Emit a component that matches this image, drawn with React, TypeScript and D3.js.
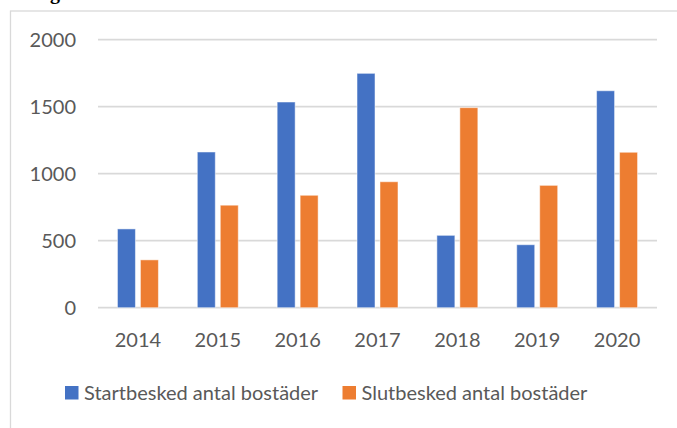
import React, { useEffect, useRef } from 'react';
import * as d3 from 'd3';

const years = ['2014', '2015', '2016', '2017', '2018', '2019', '2020'];
const startbesked = [588, 1162, 1535, 1749, 540, 470, 1619];
const slutbesked = [357, 765, 839, 940, 1493, 913, 1160];
const seriesNames = ['Startbesked antal bostäder', 'Slutbesked antal bostäder'];
const yTicks = [0, 500, 1000, 1500, 2000];

const App = () => {
  const chartRef = useRef<SVGSVGElement>(null);

  useEffect(() => {
    const svg = d3.select(chartRef.current);
    svg.selectAll('*').remove();

    const width = 677;
    const height = 428;
    const colors = ['#4472C4', '#ED7D31'];
    const textColor = '#595959';
    const font = 'Lato, "Open Sans", sans-serif';

    const x = d3.scaleBand().domain(years).range([98, 657]).paddingInner(0.487).paddingOuter(0.2435);
    const xInner = d3.scaleBand().domain(['0', '1']).range([0, x.bandwidth()]).paddingInner(0.217);
    const y = d3.scaleLinear().domain([0, 2000]).range([307.7, 39.7]);

    svg.attr('width', width).attr('height', height);

    // bit of the caption above, cut off by the crop
    svg.append('text')
      .attr('x', 50)
      .attr('y', -1)
      .attr('font-family', '"Liberation Serif", serif')
      .attr('font-weight', 'bold')
      .attr('font-size', 20)
      .attr('fill', '#000')
      .text('g');

    // chart frame
    svg.append('rect')
      .attr('x', 10.5)
      .attr('y', 11)
      .attr('width', 700)
      .attr('height', 500)
      .attr('fill', 'none')
      .attr('stroke', '#d9d9d9')
      .attr('stroke-width', 1.3);

    // gridlines
    svg.append('g')
      .selectAll('line')
      .data(yTicks)
      .join('line')
      .attr('x1', 98)
      .attr('x2', 657)
      .attr('y1', d => y(d))
      .attr('y2', d => y(d))
      .attr('stroke', '#d9d9d9')
      .attr('stroke-width', 1.8);

    // y labels
    svg.append('g')
      .attr('font-family', font)
      .attr('font-size', 20)
      .attr('fill', textColor)
      .attr('text-anchor', 'end')
      .selectAll('text')
      .data(yTicks)
      .join('text')
      .attr('x', 76)
      .attr('y', d => y(d))
      .attr('dy', '0.35em')
      .text(d => String(d));

    // bars
    const series = [startbesked, slutbesked];
    series.forEach((values, si) => {
      svg.append('g')
        .selectAll('rect')
        .data(values)
        .join('rect')
        .attr('x', (d, i) => (x(years[i]) ?? 0) + (xInner(String(si)) ?? 0))
        .attr('y', d => y(d))
        .attr('width', xInner.bandwidth())
        .attr('height', d => y(0) - y(d))
        .attr('fill', colors[si])
        .attr('stroke', '#ffffff')
        .attr('stroke-opacity', 0.5)
        .attr('stroke-width', 1);
    });

    // x labels
    svg.append('g')
      .attr('font-family', font)
      .attr('font-size', 20)
      .attr('fill', textColor)
      .attr('text-anchor', 'middle')
      .selectAll('text')
      .data(years)
      .join('text')
      .attr('x', d => (x(d) ?? 0) + x.bandwidth() / 2)
      .attr('y', 346.5)
      .text(d => d);

    // legend
    const legendX = [65, 342.5];
    const legend = svg.append('g')
      .selectAll('g')
      .data(seriesNames)
      .join('g')
      .attr('transform', (d, i) => `translate(${legendX[i]},386)`);

    legend.append('rect')
      .attr('width', 13.5)
      .attr('height', 13.5)
      .attr('fill', (d, i) => colors[i]);

    legend.append('text')
      .attr('x', 19)
      .attr('y', 7)
      .attr('dy', '0.35em')
      .attr('font-family', font)
      .attr('font-size', 20)
      .attr('fill', textColor)
      .text(d => d);
  }, []);

  return <svg ref={chartRef} style={{ position: 'absolute', left: 0, top: 0 }}></svg>;
};

export default App;
